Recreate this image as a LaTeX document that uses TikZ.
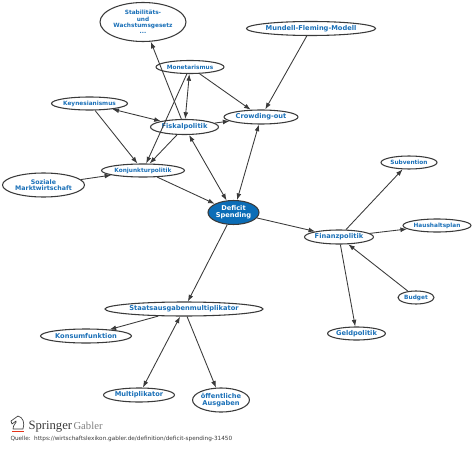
\documentclass[tikz,border=0pt]{standalone}
\usepackage{fontspec}
\setmainfont{DejaVu Sans}
\newfontfamily\logofont{Liberation Serif}
\usepackage{xcolor}
\usetikzlibrary{arrows.meta}
\usetikzlibrary{shapes.geometric}
\definecolor{linkblue}{HTML}{1A70B8}
\definecolor{hubblue}{HTML}{0B6DB7}
\definecolor{rim}{HTML}{3A3A3A}

\begin{document}
\begin{tikzpicture}[
  x=0.75pt,y=-0.75pt,
  every node/.style={ellipse,draw=rim,line width=0.8pt,inner sep=0pt,align=center,text=linkblue,fill=white},
  dims/.style 2 args={minimum width=#1*0.75pt,minimum height=#2*0.75pt},
  big/.style={font=\fontsize{5}{5.2}\selectfont\bfseries},
  mid/.style={font=\fontsize{5}{5.2}\selectfont\bfseries},
  tiny/.style={font=\fontsize{4.35}{4.7}\selectfont\bfseries},
  plain/.style={shape=rectangle,draw=none,fill=none},
  link/.style={draw=rim,line width=0.65pt,-{Latex[length=5pt,width=3.6pt]}},
  both/.style={draw=rim,line width=0.65pt,{Latex[length=5pt,width=3.6pt]}-{Latex[length=5pt,width=3.6pt]}}
]
  \useasboundingbox (0,0) rectangle (474,449);

  % top group
  \node[tiny,dims={86}{39}] (stab) at (143,22) {Stabilitäts-\\und\\Wachstumsgesetz\\...};
  \node[big,dims={129}{14}] (mundell) at (311,28.5) {Mundell-Fleming-Modell};
  \node[tiny,dims={68}{13}] (monet) at (190,67) {Monetarismus};
  \node[tiny,dims={76}{13}] (keynes) at (89.5,103.5) {Keynesianismus};
  \node[big,dims={68}{15}] (fiskal) at (184.5,127) {Fiskalpolitik};
  \node[big,dims={74}{14}] (crowd) at (261,117) {Crowding-out};
  \node[tiny,dims={83}{13}] (konj) at (143,170.5) {Konjunkturpolitik};
  \node[mid,dims={82}{24},font=\fontsize{4.7}{5}\selectfont\bfseries] (sozial) at (43.5,185) {Soziale\\Marktwirtschaft};
  \node[mid,dims={51}{24},fill=hubblue,text=white] (deficit) at (233.5,212.5) {Deficit\\Spending};

  % right group
  \node[big,dims={69}{14}] (finanz) at (339,237) {Finanzpolitik};
  \node[tiny,dims={56}{13}] (subv) at (409,162.5) {Subvention};
  \node[tiny,dims={68}{13}] (haus) at (437,225.5) {Haushaltsplan};
  \node[tiny,dims={36}{13}] (budget) at (416,297.5) {Budget};
  \node[mid,dims={57}{13}] (geld) at (356.5,333.5) {Geldpolitik};

  % bottom group
  \node[mid,dims={158}{14}] (staats) at (184,309) {Staatsausgabenmultiplikator};
  \node[mid,dims={91}{14}] (konsum) at (86,336) {Konsumfunktion};
  \node[mid,dims={71}{14}] (multi) at (139,395) {Multiplikator};
  \node[mid,dims={56}{24}] (oeff) at (221,400) {öffentliche\\Ausgaben};

  \draw[link] (fiskal) -- (stab);
  \draw[both] (monet) -- (fiskal);
  \draw[link] (monet) -- (konj);
  \draw[link] (monet) -- (crowd);
  \draw[both] (keynes) -- (fiskal);
  \draw[link] (keynes) -- (konj);
  \draw[link] (fiskal) -- (crowd);
  \draw[link] (fiskal) -- (konj);
  \draw[both] (fiskal) -- (deficit);
  \draw[both] (crowd) -- (deficit);
  \draw[link] (mundell) -- (crowd);
  \draw[link] (sozial) -- (konj);
  \draw[link] (konj) -- (deficit);
  \draw[link] (deficit) -- (finanz);
  \draw[link] (deficit) -- (staats);
  \draw[link] (finanz) -- (subv);
  \draw[link] (finanz) -- (haus);
  \draw[link] (budget) -- (finanz);
  \draw[link] (finanz) -- (geld);
  \draw[link] (staats) -- (konsum);
  \draw[both] (multi) -- (staats);
  \draw[link] (staats) -- (oeff);

  % logo
  \draw[rim,line width=0.5pt,line join=round] (13,429) .. controls (13,424) and (17,423) .. (16,421) -- (12,424) -- (11,421) -- (18,416) .. controls (23,417) and (25,423) .. (23,429) -- cycle;
  \draw[red!60!brown,line width=0.7pt] (12,431.5) -- (24,431.5);
  \node[plain,anchor=base west,inner sep=0pt,text=rim,font=\logofont\fontsize{9.5}{11}\selectfont] (springer) at (28,429) {Springer};
  \node[plain,anchor=base west,inner sep=0pt,text=gray,font=\logofont\fontsize{8}{10}\selectfont] (gabler) at (73,429) {Gabler};
  \node[plain,anchor=base west,inner sep=0pt,text=rim,font=\fontsize{4.3}{6}\selectfont] (quelle) at (10,440) {Quelle:\, https://wirtschaftslexikon.gabler.de/definition/deficit-spending-31450};
\end{tikzpicture}
\end{document}
